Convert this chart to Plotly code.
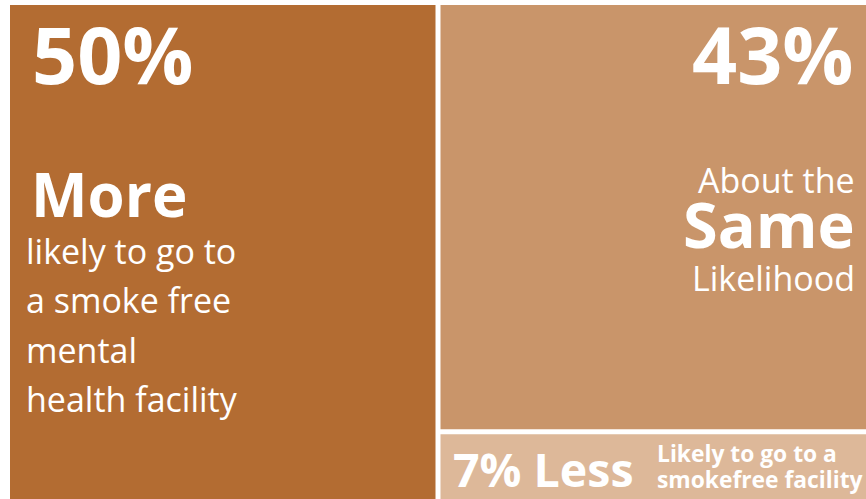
import plotly.graph_objects as go

# Data
labels = ["More", "About the Same", "Less"]
values = [50, 43, 7]
colors = ["#B36C32", "#C9956A", "#DDB899"]

W, H = 866, 499

fig = go.Figure(go.Treemap(
    labels=labels,
    parents=["", "", ""],
    values=values,
    sort=True,
    textinfo="none",
    hoverinfo="skip",
    marker=dict(colors=colors, line=dict(width=0), pad=dict(t=0, l=0, r=0, b=0)),
    tiling=dict(packing="squarify", pad=5),
    pathbar=dict(visible=False),
    domain=dict(x=[10 / W, 1], y=[0, 1 - 5 / H]),
))

FONT = "Open Sans"
ASC = 1.069


def add_text(text, x, baseline, size, bold=False, anchor="left"):
    top = baseline - ASC * size - 1
    fig.add_annotation(
        text=text, x=x / W, y=1 - top / H, xref="paper", yref="paper",
        xanchor=anchor, yanchor="top", showarrow=False,
        font=dict(family=FONT, size=size, color="white", weight="bold" if bold else "normal"),
        borderpad=0,
    )


# left tile
add_text("50%", 31, 84, 79, True)
add_text("More", 30, 217, 60, True)
add_text("likely to go to", 25, 264, 34)
add_text("a smoke free", 25, 313, 34)
add_text("mental", 25, 363, 34)
add_text("health facility", 25, 412, 34)

# right top tile
add_text("43%", 855, 84, 79, True, "right")
add_text("About the", 856, 193, 34, False, "right")
add_text("Same", 856, 248, 63, True, "right")
add_text("Likelihood", 856, 291, 34, False, "right")

# bottom tile
add_text("7% Less", 452, 487, 46.5, True)
add_text("Likely to go to a", 656, 462, 22.8, True)
add_text("smokefree facility", 656, 488, 22.8, True)

fig.update_layout(
    width=W, height=H,
    margin=dict(l=0, r=0, t=0, b=0),
    paper_bgcolor="white",
    showlegend=False,
)

fig.write_html(
    "out.html",
    config={"displayModeBar": False},
    post_script="document.body.style.margin='0';document.body.style.overflow='hidden';",
)
